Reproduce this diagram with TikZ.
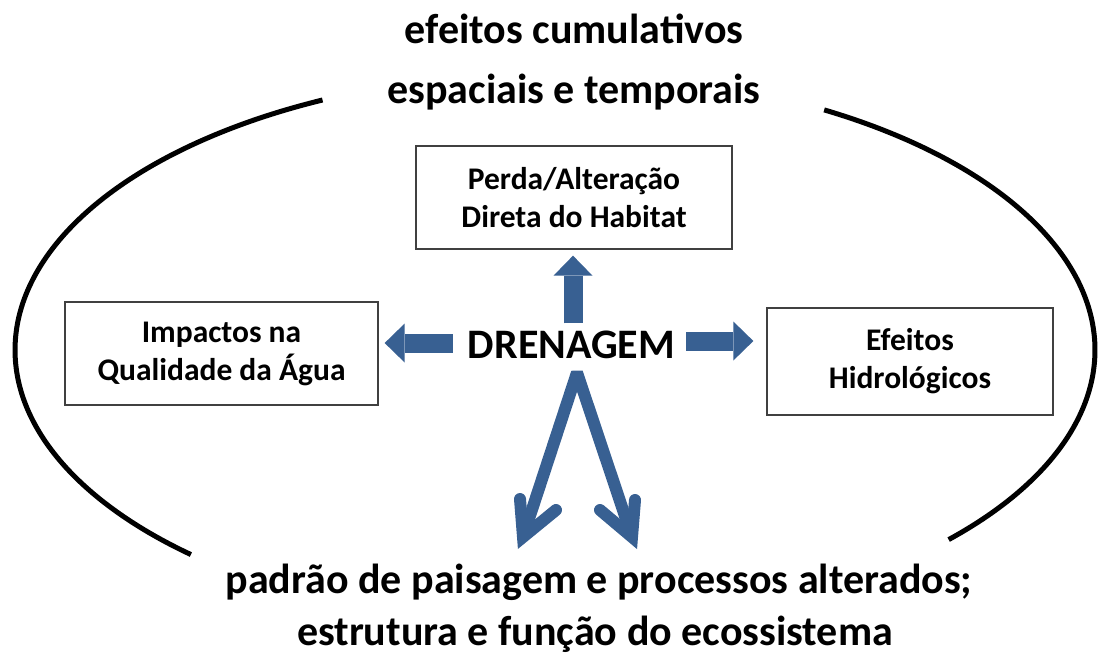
\documentclass[tikz,border=0pt]{standalone}
\usepackage{fontspec}
\setmainfont{Carlito}
\usetikzlibrary{arrows.meta,calc}
\definecolor{arrowblue}{RGB}{56,96,146}
\begin{document}
\begin{tikzpicture}[x=1pt,y=-1pt,
  box/.style={draw=black!75, line width=1.3pt, inner sep=0pt, align=center,
    font=\fontsize{31.5}{38}\selectfont\bfseries},
  titletext/.style={font=\fontsize{42}{50}\selectfont\bfseries, inner sep=0pt, anchor=base},
  fat/.style={arrowblue, line width=19pt, -{Triangle[width=39pt,length=20pt,line width=0pt]}},
  vline/.style={arrowblue, line width=12pt},
  ring/.style={black, line width=5pt}]
\useasboundingbox (0,0) rectangle (1099,657);
% ellipse arcs
\draw[ring] plot[domain=132.4:244.5, samples=120, smooth] ({555+540*cos(\x)}, {350+277*sin(\x)});
\draw[ring] plot[domain=-60.1:43.2, samples=120, smooth] ({555+540*cos(\x)}, {350+277*sin(\x)});
% titles
\node[titletext] (t1) at (574,43) {efeitos cumulativos};
\node[titletext] (t2) at (574,103) {espaciais e temporais};
\node[titletext] (b1) at (599,593) {padrão de paisagem e processos alterados;};
\node[titletext] (b2) at (595,645) {estrutura e função do ecossistema};
% boxes
\node[box, minimum width=316pt, minimum height=103pt] (hab) at (574,197.5) {Perda/Alteração\\Direta do Habitat};
\node[box, minimum width=313pt, minimum height=103pt] (agua) at (221.5,353.5) {Impactos na\\Qualidade da Água};
\node[box, minimum width=286pt, minimum height=107pt] (hidro) at (910,361.5) {Efeitos\\Hidrológicos};
% centre
\node[font=\fontsize{42}{50}\selectfont\bfseries, inner sep=0pt] (dren) at (571.5,345) {DRENAGEM};
% straight arrows
\draw[fat] ($(dren.north)+(1.5,-7.5)$) -- ($(dren.north |- hab.south)+(1.5,6)$);
\draw[fat] ($(dren.west)+(-15,-2)$) -- ($(dren.west -| agua.east)+(6,-2)$);
\draw[fat] ($(dren.east)+(11,-4)$) -- ($(dren.east -| hidro.west)+(-13,-4)$);
% forked arrows
\coordinate (apex) at ($(dren.south)+(5.5,13.5)$);
\coordinate (vl) at (523,537);
\coordinate (vr) at (632,537);
\draw[vline, line join=bevel] (vl) -- (apex) -- (vr);
\draw[vline, line join=miter, line cap=round] ($(vl)+(-3,-38)$) -- (vl) -- ($(vl)+(33,-27)$);
\draw[vline, line join=miter, line cap=round] ($(vr)+(3,-37)$) -- (vr) -- ($(vr)+(-32,-27)$);
\end{tikzpicture}
\end{document}
